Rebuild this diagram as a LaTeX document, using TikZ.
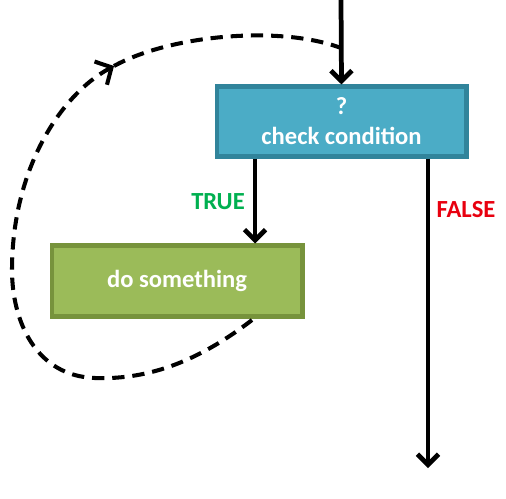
\documentclass[tikz,border=0pt]{standalone}
\usepackage{fontspec}
\setmainfont{Carlito}
\usetikzlibrary{arrows.meta}
\definecolor{checkfill}{HTML}{4BACC6}
\definecolor{checkdraw}{HTML}{31849B}
\definecolor{dofill}{HTML}{9BBB59}
\definecolor{dodraw}{HTML}{77933C}
\definecolor{truegreen}{HTML}{00B050}
\definecolor{falsered}{HTML}{E8000F}
\tikzset{
  block/.style={rectangle,line width=2.3pt,inner sep=0pt,text=white,
    font=\fontsize{14}{17}\selectfont\bfseries,align=center},
  flowline/.style={line width=2.7pt,-{Straight Barb[length=6pt,width=12pt]}},
  backedge/.style={line width=2.3pt,dash pattern=on 7pt off 4.5pt},
  lbl/.style={font=\fontsize{14}{16}\selectfont\bfseries}
}
\begin{document}
\begin{tikzpicture}[x=0.02cm,y=-0.02cm]
\useasboundingbox (0,0) rectangle (506,498);

\node (check) at (341.5,121.5) [block,fill=checkfill,draw=checkdraw,minimum width=5cm,minimum height=1.4cm]{?\\check condition};
\node (do) at (177,281) [block,fill=dofill,draw=dodraw,minimum width=5.02cm,minimum height=1.42cm]{do something};

\coordinate (top) at (341,0);
\coordinate (t) at (255,0);
\coordinate (falseend) at (428,468);

\draw[flowline] (top)--(check.north);
\draw[flowline] (t |- check.south)--(t |- do.north);
\draw[flowline] (falseend |- check.south)--(falseend);

\node (truelbl) at (218,202) [lbl,text=truegreen]{TRUE};
\node (falselbl) at (466,210) [lbl,text=falsered]{FALSE};

\coordinate (loopstart) at (252,320);
\coordinate (loopbot) at (95,378);
\coordinate (loopleft) at (12,270);
\coordinate (looptip) at (114,66);
\coordinate (loopend) at (341,48);

\draw[backedge,-{Straight Barb[length=7pt,width=15pt]}] (loopstart) .. controls (200,360) and (150,380) .. (loopbot)
  .. controls (35,376) and (12,320) .. (loopleft)
  .. controls (12,170) and (60,95) .. (looptip);
\draw[backedge] (looptip) .. controls (170,35) and (280,25) .. (loopend);

\end{tikzpicture}
\end{document}
